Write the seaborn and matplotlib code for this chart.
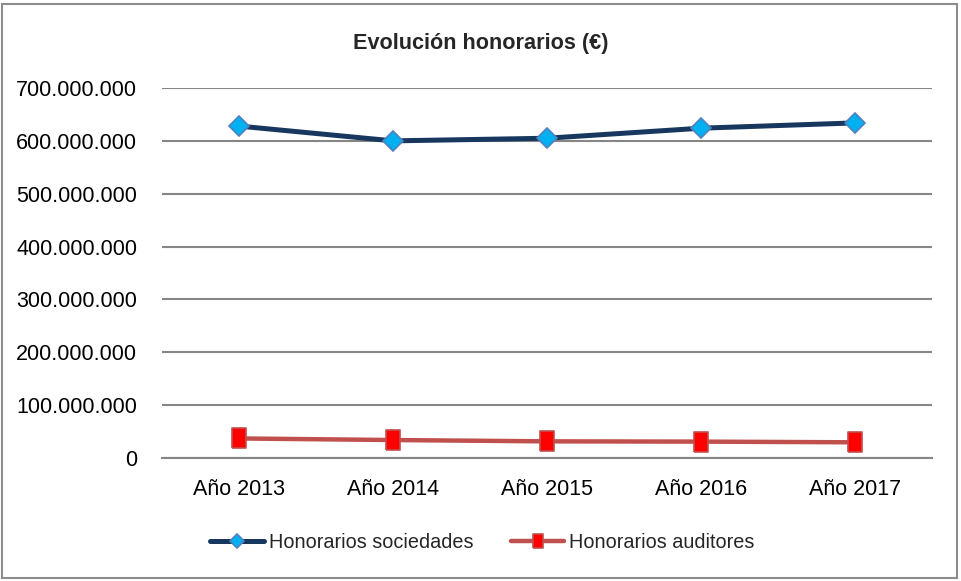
import pandas as pd
import matplotlib.pyplot as plt
import matplotlib.ticker as mticker
import seaborn as sns

# Data
years = ["Año 2013", "Año 2014", "Año 2015", "Año 2016", "Año 2017"]
hon_sociedades = [628000000, 600000000, 605000000, 624000000, 634000000]
hon_auditores = [37000000, 34000000, 31500000, 31000000, 29700000]

df = pd.DataFrame({"year": years,
                   "sociedades": hon_sociedades,
                   "auditores": hon_auditores})

sns.set_style("white")
plt.rcParams["font.family"] = ["Liberation Sans", "DejaVu Sans"]

fig = plt.figure(figsize=(9.61, 5.81), dpi=100)
ax = fig.add_axes([0.1686, 0.2117, 0.8012, 0.6368])

# outer frame of the chart
fig.patches.append(plt.Rectangle((0.002, 0.005), 0.994, 0.988, transform=fig.transFigure,
                                 fill=False, edgecolor="#8c8c8c", linewidth=1.5))

# slightly tall square, as in the original
sq = [(-0.37, -0.5), (0.37, -0.5), (0.37, 0.5), (-0.37, 0.5), (-0.37, -0.5)]

sns.lineplot(data=df, x="year", y="sociedades", ax=ax, color="#17375E", linewidth=3.6,
             marker="D", markersize=10, markerfacecolor="#00B0F0",
             markeredgecolor="#4F81BD", markeredgewidth=1.2,
             label="Honorarios sociedades", zorder=3)
sns.lineplot(data=df, x="year", y="auditores", ax=ax, color="#C0504D", linewidth=3.2,
             marker=sq, markersize=14, markerfacecolor="#FF0000",
             markeredgecolor="#C0504D", markeredgewidth=1.2,
             label="Honorarios auditores", zorder=3)

ax.set_ylim(0, 700000000)
ax.set_xlim(-0.5, 4.5)
ax.yaxis.set_major_locator(mticker.MultipleLocator(100000000))
ax.yaxis.set_major_formatter(mticker.FuncFormatter(lambda v, p: f"{int(v):,}".replace(",", ".")))
ax.grid(axis="y", color="#868686", linewidth=1.5)
ax.set_axisbelow(True)
for s in ["top", "right", "left"]:
    ax.spines[s].set_visible(False)
ax.spines["bottom"].set_color("#868686")
ax.spines["bottom"].set_linewidth(1.5)
ax.tick_params(axis="both", length=0, labelsize=15.5, colors="black")
ax.tick_params(axis="x", pad=15)
ax.tick_params(axis="y", pad=18)
ax.set_xlabel("")
ax.set_ylabel("")

fig.text(0.5, 1 - 43 / 581, "Evolución honorarios (€)", ha="center", va="center",
         fontsize=15.6, fontweight="bold")

leg = ax.legend(loc="center", bbox_to_anchor=(0.502, 1 - 542 / 581),
                bbox_transform=fig.transFigure, frameon=False, ncol=2, fontsize=14.3,
                handlelength=2.7, columnspacing=1.9, handletextpad=0.25, markerscale=0.7)

fig.savefig("out.png", dpi=100)
